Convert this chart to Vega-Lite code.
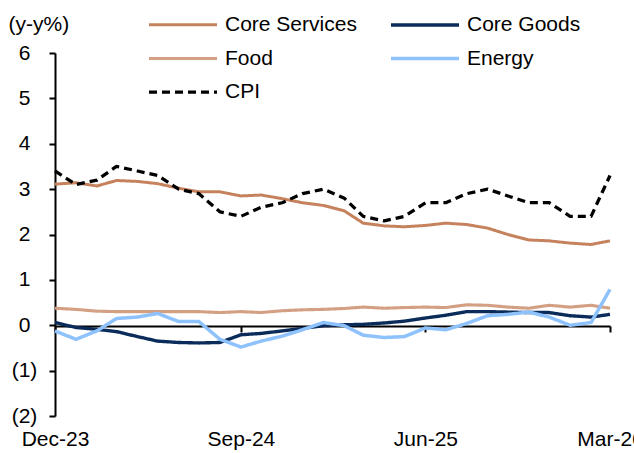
{
  "$schema": "https://vega.github.io/schema/vega-lite/v6.json",
  "width": 555,
  "height": 363,
  "autosize": {"type": "none"},
  "padding": {"left": 55, "top": 53, "right": 24, "bottom": 37},
  "config": {
    "view": {"stroke": null},
    "font": "Liberation Sans",
    "axis": {"labelFont": "Liberation Sans", "titleFont": "Liberation Sans", "labelColor": "#000", "titleColor": "#000", "domainColor": "#000", "tickColor": "#000"},
    "legend": {"labelFont": "Liberation Sans", "labelColor": "#000"}
  },
  "data": {
    "values": [
      {"m": "2023-12-01", "Core Services": 3.11, "Core Goods": 0.06, "Food": 0.375, "Energy": -0.125, "CPI": 3.4},
      {"m": "2024-01-01", "Core Services": 3.14, "Core Goods": -0.05, "Food": 0.35, "Energy": -0.31, "CPI": 3.1},
      {"m": "2024-02-01", "Core Services": 3.07, "Core Goods": -0.09, "Food": 0.31, "Energy": -0.125, "CPI": 3.2},
      {"m": "2024-03-01", "Core Services": 3.19, "Core Goods": -0.14, "Food": 0.30, "Energy": 0.15, "CPI": 3.5},
      {"m": "2024-04-01", "Core Services": 3.17, "Core Goods": -0.25, "Food": 0.30, "Energy": 0.18, "CPI": 3.4},
      {"m": "2024-05-01", "Core Services": 3.12, "Core Goods": -0.35, "Food": 0.30, "Energy": 0.26, "CPI": 3.3},
      {"m": "2024-06-01", "Core Services": 3.02, "Core Goods": -0.38, "Food": 0.30, "Energy": 0.08, "CPI": 3.0},
      {"m": "2024-07-01", "Core Services": 2.94, "Core Goods": -0.39, "Food": 0.30, "Energy": 0.08, "CPI": 2.9},
      {"m": "2024-08-01", "Core Services": 2.94, "Core Goods": -0.38, "Food": 0.28, "Energy": -0.31, "CPI": 2.5},
      {"m": "2024-09-01", "Core Services": 2.85, "Core Goods": -0.21, "Food": 0.30, "Energy": -0.48, "CPI": 2.4},
      {"m": "2024-10-01", "Core Services": 2.87, "Core Goods": -0.18, "Food": 0.28, "Energy": -0.35, "CPI": 2.6},
      {"m": "2024-11-01", "Core Services": 2.79, "Core Goods": -0.125, "Food": 0.32, "Energy": -0.24, "CPI": 2.7},
      {"m": "2024-12-01", "Core Services": 2.70, "Core Goods": -0.07, "Food": 0.34, "Energy": -0.10, "CPI": 2.9},
      {"m": "2025-01-01", "Core Services": 2.64, "Core Goods": -0.01, "Food": 0.35, "Energy": 0.06, "CPI": 3.0},
      {"m": "2025-02-01", "Core Services": 2.52, "Core Goods": 0.01, "Food": 0.37, "Energy": -0.01, "CPI": 2.8},
      {"m": "2025-03-01", "Core Services": 2.25, "Core Goods": 0.02, "Food": 0.40, "Energy": -0.22, "CPI": 2.4},
      {"m": "2025-04-01", "Core Services": 2.19, "Core Goods": 0.05, "Food": 0.375, "Energy": -0.27, "CPI": 2.3},
      {"m": "2025-05-01", "Core Services": 2.17, "Core Goods": 0.09, "Food": 0.39, "Energy": -0.25, "CPI": 2.4},
      {"m": "2025-06-01", "Core Services": 2.20, "Core Goods": 0.16, "Food": 0.40, "Energy": -0.06, "CPI": 2.7},
      {"m": "2025-07-01", "Core Services": 2.25, "Core Goods": 0.22, "Food": 0.39, "Energy": -0.10, "CPI": 2.7},
      {"m": "2025-08-01", "Core Services": 2.22, "Core Goods": 0.30, "Food": 0.45, "Energy": 0.04, "CPI": 2.9},
      {"m": "2025-09-01", "Core Services": 2.14, "Core Goods": 0.30, "Food": 0.44, "Energy": 0.21, "CPI": 3.0},
      {"m": "2025-10-01", "Core Services": 2.00, "Core Goods": 0.29, "Food": 0.40, "Energy": 0.24, "CPI": 2.85},
      {"m": "2025-11-01", "Core Services": 1.88, "Core Goods": 0.28, "Food": 0.375, "Energy": 0.29, "CPI": 2.7},
      {"m": "2025-12-01", "Core Services": 1.86, "Core Goods": 0.28, "Food": 0.44, "Energy": 0.18, "CPI": 2.7},
      {"m": "2026-01-01", "Core Services": 1.81, "Core Goods": 0.21, "Food": 0.40, "Energy": 0.00, "CPI": 2.4},
      {"m": "2026-02-01", "Core Services": 1.78, "Core Goods": 0.18, "Food": 0.44, "Energy": 0.06, "CPI": 2.4},
      {"m": "2026-03-01", "Core Services": 1.86, "Core Goods": 0.24, "Food": 0.375, "Energy": 0.79, "CPI": 3.3}
    ]
  },
  "transform": [
    {"fold": ["Core Services", "Core Goods", "Food", "Energy", "CPI"], "as": ["series", "value"]}
  ],
  "mark": {"type": "line", "strokeJoin": "round"},
  "encoding": {
    "x": {
      "field": "m", "type": "temporal",
      "scale": {"type": "utc", "domain": [{"year": 2023, "month": 12, "date": 1, "utc": true}, {"year": 2026, "month": 3, "date": 1, "utc": true}], "nice": false},
      "axis": {
        "title": null,
        "labelExpr": "utcFormat(datum.value, '%b-%y')",
        "values": [{"year": 2023, "month": 12, "date": 1, "utc": true}, {"year": 2024, "month": 9, "date": 1, "utc": true}, {"year": 2025, "month": 6, "date": 1, "utc": true}, {"year": 2026, "month": 3, "date": 1, "utc": true}],
        "offset": -90, "labelPadding": 96, "tickSize": 6, "tickWidth": 2, "domainWidth": 2,
        "labelFontSize": 21, "labelFlush": false, "labelOverlap": false, "grid": false, "labelBaseline": "top"
      }
    },
    "y": {
      "field": "value", "type": "quantitative",
      "scale": {"domain": [-2, 6], "nice": false, "zero": false},
      "axis": {
        "values": [-2, -1, 0, 1, 2, 3, 4, 5, 6],
        "labelExpr": "datum.value < 0 ? '(' + abs(datum.value) + ')' : '' + datum.value",
        "labelAlign": "center",
        "title": "(y-y%)", "titleAngle": 0, "titleAlign": "left", "titleBaseline": "middle",
        "titleX": -47, "titleY": -29, "titleFontSize": 21, "titleFontWeight": "normal",
        "labelFontSize": 21, "labelPadding": 25, "tickSize": 6, "tickWidth": 2, "domainWidth": 2, "grid": false
      }
    },
    "color": {
      "field": "series", "type": "nominal",
      "scale": {"domain": ["Core Services", "Food", "CPI", "Core Goods", "Energy"], "range": ["#C5825C", "#D3A084", "#000000", "#0B2C5A", "#8EC2FD"]},
      "legend": {
        "title": null, "orient": "none", "legendX": 92, "legendY": -47, "columns": 2,
        "symbolType": "M-1,0H3", "symbolSize": 1156, "symbolStrokeWidth": 3.5,
        "labelFontSize": 21, "labelOffset": 40, "rowPadding": 4.5, "columnPadding": 27, "labelLimit": 300
      }
    },
    "strokeDash": {
      "field": "series", "type": "nominal",
      "scale": {"domain": ["Core Services", "Food", "CPI", "Core Goods", "Energy"], "range": [[1, 0], [1, 0], [8, 5], [1, 0], [1, 0]]},
      "legend": {
        "title": null, "orient": "none", "legendX": 92, "legendY": -47, "columns": 2,
        "symbolType": "M-1,0H3", "symbolSize": 1156, "symbolStrokeWidth": 3.5,
        "labelFontSize": 21, "labelOffset": 40, "rowPadding": 4.5, "columnPadding": 27, "labelLimit": 300
      }
    },
    "strokeWidth": {
      "field": "series", "type": "nominal",
      "scale": {"domain": ["Core Services", "Food", "CPI", "Core Goods", "Energy"], "range": [3, 3.5, 3, 2.5, 3.5]},
      "legend": null
    }
  }
}
